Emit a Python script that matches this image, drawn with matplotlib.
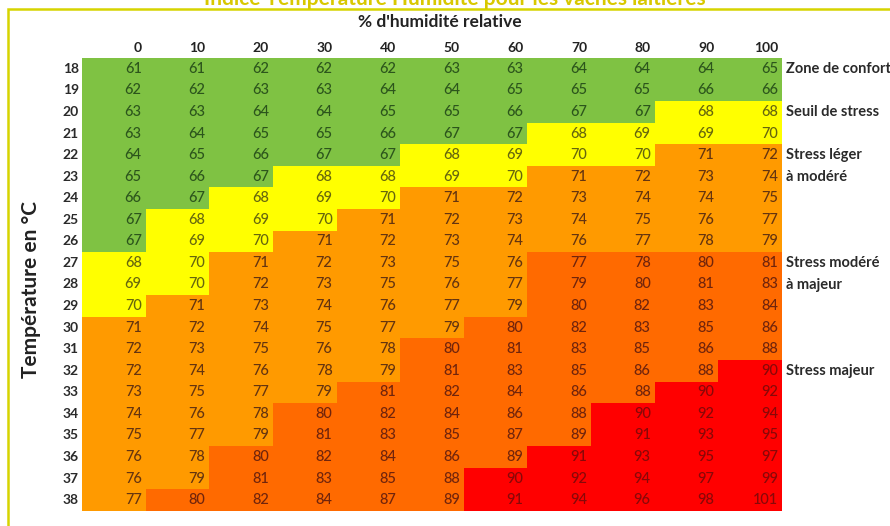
import matplotlib
matplotlib.use("Agg")
import matplotlib.pyplot as plt
from matplotlib.colors import ListedColormap
from matplotlib.patches import Rectangle
import numpy as np

plt.rcParams['font.family'] = ['Lato', 'DejaVu Sans']

title = "Indice Température Humidité pour les vaches laitières"
x_title = "% d'humidité relative"
y_title = "Température en °C"

humidity = [0, 10, 20, 30, 40, 50, 60, 70, 80, 90, 100]
temperatures = list(range(18, 39))

thi = [
    [61, 61, 62, 62, 62, 63, 63, 64, 64, 64, 65],
    [62, 62, 63, 63, 64, 64, 65, 65, 65, 66, 66],
    [63, 63, 64, 64, 65, 65, 66, 67, 67, 68, 68],
    [63, 64, 65, 65, 66, 67, 67, 68, 69, 69, 70],
    [64, 65, 66, 67, 67, 68, 69, 70, 70, 71, 72],
    [65, 66, 67, 68, 68, 69, 70, 71, 72, 73, 74],
    [66, 67, 68, 69, 70, 71, 72, 73, 74, 74, 75],
    [67, 68, 69, 70, 71, 72, 73, 74, 75, 76, 77],
    [67, 69, 70, 71, 72, 73, 74, 76, 77, 78, 79],
    [68, 70, 71, 72, 73, 75, 76, 77, 78, 80, 81],
    [69, 70, 72, 73, 75, 76, 77, 79, 80, 81, 83],
    [70, 71, 73, 74, 76, 77, 79, 80, 82, 83, 84],
    [71, 72, 74, 75, 77, 79, 80, 82, 83, 85, 86],
    [72, 73, 75, 76, 78, 80, 81, 83, 85, 86, 88],
    [72, 74, 76, 78, 79, 81, 83, 85, 86, 88, 90],
    [73, 75, 77, 79, 81, 82, 84, 86, 88, 90, 92],
    [74, 76, 78, 80, 82, 84, 86, 88, 90, 92, 94],
    [75, 77, 79, 81, 83, 85, 87, 89, 91, 93, 95],
    [76, 78, 80, 82, 84, 86, 89, 91, 93, 95, 97],
    [76, 79, 81, 83, 85, 88, 90, 92, 94, 97, 99],
    [77, 80, 82, 84, 87, 89, 91, 94, 96, 98, 101],
]

# zone of each cell: G comfort, Y threshold, O light-moderate, D moderate-major, R major
zones = [
    "GGGGGGGGGGG",
    "GGGGGGGGGGG",
    "GGGGGGGGGYY",
    "GGGGGGGYYYY",
    "GGGGGYYYYOO",
    "GGGYYYYOOOO",
    "GGYYYOOOOOO",
    "GYYYOOOOOOO",
    "GYYOOOOOOOO",
    "YYOOOOODDDD",
    "YYOOOOODDDD",
    "YOOOOOODDDD",
    "OOOOOODDDDD",
    "OOOOODDDDDD",
    "OOOOODDDDDR",
    "OOOODDDDDRR",
    "OOODDDDDRRR",
    "OOODDDDDRRR",
    "OODDDDDRRRR",
    "OODDDDRRRRR",
    "ODDDDDRRRRR",
]

zone_labels = [(0, "Zone de confort"), (2, "Seuil de stress"), (4, "Stress léger"),
               (5, "à modéré"), (9, "Stress modéré"), (10, "à majeur"), (14, "Stress majeur")]

zone_order = "GYODR"
cell_colors = ["#7fc243", "#ffff00", "#ff9a00", "#ff6a00", "#ff0000"]
text_colors = ["#2c551c", "#66660e", "#643410", "#70240c", "#880808"]

W, H = 890, 526
fig = plt.figure(figsize=(W / 100, H / 100), dpi=100)
fig.patch.set_facecolor("white")

gx0, gx1, gy0, gy1 = 82, 782, 58, 511
ax = fig.add_axes([gx0 / W, 1 - gy1 / H, (gx1 - gx0) / W, (gy1 - gy0) / H])

zmat = np.array([[zone_order.index(c) for c in row] for row in zones])
ax.pcolormesh(np.arange(len(humidity) + 1) - 0.5, np.arange(len(temperatures) + 1) - 0.5,
              zmat, cmap=ListedColormap(cell_colors), vmin=-0.5, vmax=4.5)
ax.set_xlim(-0.5, len(humidity) - 0.5)
ax.set_ylim(len(temperatures) - 0.5, -0.5)
ax.axis("off")

colw = (gx1 - gx0) / len(humidity)
rowh = (gy1 - gy0) / len(temperatures)
pad = 4 / colw

for i, row in enumerate(thi):
    for j, v in enumerate(row):
        ax.text(j + 0.5 - pad, i, str(v), ha="right", va="center", fontsize=10.5,
                fontweight="medium", color=text_colors[zmat[i, j]])

for j, h in enumerate(humidity):
    ax.text(j + 0.5 - pad, -0.5 - 10 / rowh, str(h), ha="right", va="center",
            fontsize=10, fontweight="bold", color="#222222", clip_on=False)

for i, t in enumerate(temperatures):
    ax.text(-0.5 - 3 / colw, i, str(t), ha="right", va="center", fontsize=10,
            fontweight="bold", color="#2a2a2a", clip_on=False)

for i, lab in zone_labels:
    ax.text(len(humidity) - 0.5 + 4 / colw, i, lab, ha="left", va="center", fontsize=10.5,
            fontweight="bold", color="#2a2a2a", clip_on=False)

fig.text(440 / W, 1 - 22 / H, x_title, ha="center", va="center", fontsize=12.5,
         fontweight="bold", color="#222222")
fig.text(31 / W, 1 - 290 / H, y_title, ha="center", va="center", rotation=90,
         fontsize=15, fontweight="bold", color="#222222")

fig.text(455 / W, 1 - 5 / H, title, ha="center", va="baseline", fontsize=15,
         fontweight="bold", color="#d8c800")

fig.patches.append(Rectangle((8 / W, -0.05), 1.0, 1 - 9 / H + 0.05, transform=fig.transFigure,
                             fill=False, edgecolor="#d6d400", linewidth=1.8))

fig.savefig("out.png", dpi=100)
